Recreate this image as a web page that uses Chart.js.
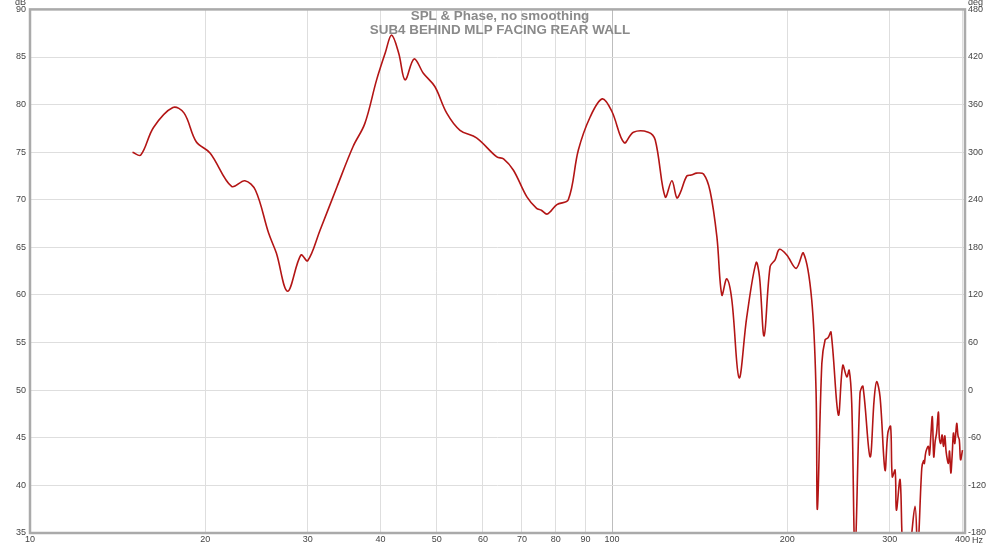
<!DOCTYPE html>
<html>
<head>
<meta charset="utf-8">
<script src="https://cdn.jsdelivr.net/npm/chart.js@4.4.1/dist/chart.umd.min.js"></script>
<style>
  body{margin:0;background:#fff;}
  #wrap{position:relative;width:1000px;height:547px;}
</style>
</head>
<body>
<div id="wrap"><canvas id="myChart"></canvas></div>
<script>
// frequency (Hz) and SPL (dB)
const freqs = [15.0,15.5,16.3,17.6,18.4,19.3,20.4,22.2,23.4,24.4,25.7,26.5,27.7,29.2,30.0,31.5,33.7,35.9,37.6,39.4,40.8,41.8,43.0,44.1,45.7,47.4,49.6,52.0,54.8,58.5,63.4,65.1,67.7,71.4,74.2,75.6,77.4,80.4,84.1,87.5,91.7,96.2,99.9,104.9,108.8,115.4,118.6,123.4,126.7,129.2,130.9,134.4,136.8,139.8,143.6,147.4,151.4,154.4,157.4,160.6,165.3,170.4,176.8,179.2,182.5,186.9,190.6,193.9,199.6,207.2,213.2,220.3,224.1,225.3,229.3,232.3,235.0,237.8,244.8,249.1,253.1,255.5,258.1,261.5,266.7,269.8,277.5,282.0,284.8,288.7,294.4,297.7,301.0,303.0,306.4,308.0,312.5,316.0,320.0,324.0,331.6,335.0,340.5,343.0,344.0,346.0,349.5,351.0,353.0,355.0,357.0,359.0,361.0,363.7,365.0,367.0,369.0,371.0,373.0,375.0,378.3,380.0,382.0,384.0,386.0,388.0,391.0,393.0,395.0,397.0,400.0];
const spl = [75.0,74.7,77.6,79.7,79.1,76.1,74.9,71.4,72.0,71.0,66.5,64.4,60.4,64.2,63.6,66.8,71.4,75.6,78.0,82.6,85.5,87.3,85.4,82.6,84.8,83.3,81.9,79.1,77.3,76.5,74.5,74.3,73.1,70.3,69.1,68.9,68.5,69.5,70.0,75.2,78.7,80.6,79.3,76.0,77.1,77.1,76.3,70.3,72.0,70.2,70.7,72.5,72.6,72.8,72.7,70.9,66.1,60.0,61.7,59.5,51.3,57.7,63.4,61.9,55.7,63.0,63.7,64.8,64.2,62.8,64.4,59.5,50.0,37.5,52.8,55.3,55.5,56.1,47.4,52.6,51.4,52.1,48.6,33.0,49.7,50.4,43.0,49.0,50.9,49.3,41.6,45.5,46.2,40.9,41.6,37.4,40.6,33.0,34.0,33.0,37.8,33.0,41.8,42.6,42.3,43.5,44.1,43.2,45.3,47.2,43.0,44.6,45.5,47.7,45.0,44.4,45.3,44.1,45.2,43.5,42.3,43.6,41.3,43.2,45.5,44.4,46.5,45.2,44.8,42.7,43.7];

const xTicks = [10,20,30,40,50,60,70,80,90,100,200,300,400];
const dbTicks = [35,40,45,50,55,60,65,70,75,80,85,90];
const degTicks = [-180,-120,-60,0,60,120,180,240,300,360,420,480];
const titleLines = ['SPL & Phase, no smoothing','SUB4 BEHIND MLP FACING REAR WALL'];

const points = freqs.map((f,i)=>({x:f,y:spl[i]}));
const tickFont = {family:'Liberation Sans, Arial, sans-serif', size:9};

const extras = {
  id:'extras',
  beforeDatasetsDraw(chart){
    const {ctx} = chart;
    ctx.save();
    ctx.fillStyle = '#8a8a8a';
    ctx.font = 'bold 13.4px Liberation Sans, Arial, sans-serif';
    ctx.textAlign = 'center';
    ctx.textBaseline = 'middle';
    ctx.fillText(titleLines[0], 500, 16);
    ctx.fillText(titleLines[1], 500, 30);
    ctx.restore();
  },
  afterDraw(chart){
    const {ctx, chartArea:a} = chart;
    ctx.save();
    ctx.strokeStyle = '#aaaaaa';
    ctx.lineWidth = 2.5;
    ctx.strokeRect(a.left, a.top, a.right-a.left, a.bottom-a.top);
    ctx.fillStyle = '#444';
    ctx.font = '9px Liberation Sans, Arial, sans-serif';
    ctx.textBaseline = 'middle';
    ctx.textAlign = 'right';
    ctx.fillText('dB', a.left-4, 3);
    ctx.textAlign = 'left';
    ctx.fillText('deg', a.right+3, 3);
    ctx.fillText('Hz', a.right+7, 541);
    ctx.restore();
  }
};

new Chart(document.getElementById('myChart').getContext('2d'), {
  type:'line',
  data:{
    datasets:[{
      data:points,
      borderColor:'#b31515',
      borderWidth:1.6,
      pointRadius:0,
      tension:0.35,
      fill:false
    }]
  },
  options:{
    responsive:true,
    maintainAspectRatio:false,
    animation:false,
    layout:{padding:{top:9,left:0,right:0,bottom:0}},
    plugins:{legend:{display:false}, tooltip:{enabled:false}},
    scales:{
      x:{
        type:'logarithmic',
        min:10, max:404,
        afterFit(s){ s.height = 14; },
        afterBuildTicks(s){ s.ticks = xTicks.map(v=>({value:v})); },
        ticks:{autoSkip:false, maxRotation:0, padding:1, color:'#444', font:tickFont,
          callback:(v)=>String(v)},
        grid:{color:(c)=>c.tick && c.tick.value===100 ? '#bdbdbd' : '#dedede', lineWidth:1, drawTicks:false},
        border:{display:false}
      },
      y:{
        position:'left',
        min:35, max:90,
        afterFit(s){ s.width = 30; },
        afterBuildTicks(s){ s.ticks = dbTicks.map(v=>({value:v})); },
        ticks:{padding:4, color:'#444', font:tickFont},
        grid:{color:'#dedede', lineWidth:1, drawTicks:false},
        border:{display:false}
      },
      y1:{
        position:'right',
        min:-180, max:480,
        afterFit(s){ s.width = 35; },
        afterBuildTicks(s){ s.ticks = degTicks.map(v=>({value:v})); },
        ticks:{padding:3, color:'#444', font:tickFont},
        grid:{display:false, drawTicks:false},
        border:{display:false}
      }
    }
  },
  plugins:[extras]
});
</script>
</body>
</html>
